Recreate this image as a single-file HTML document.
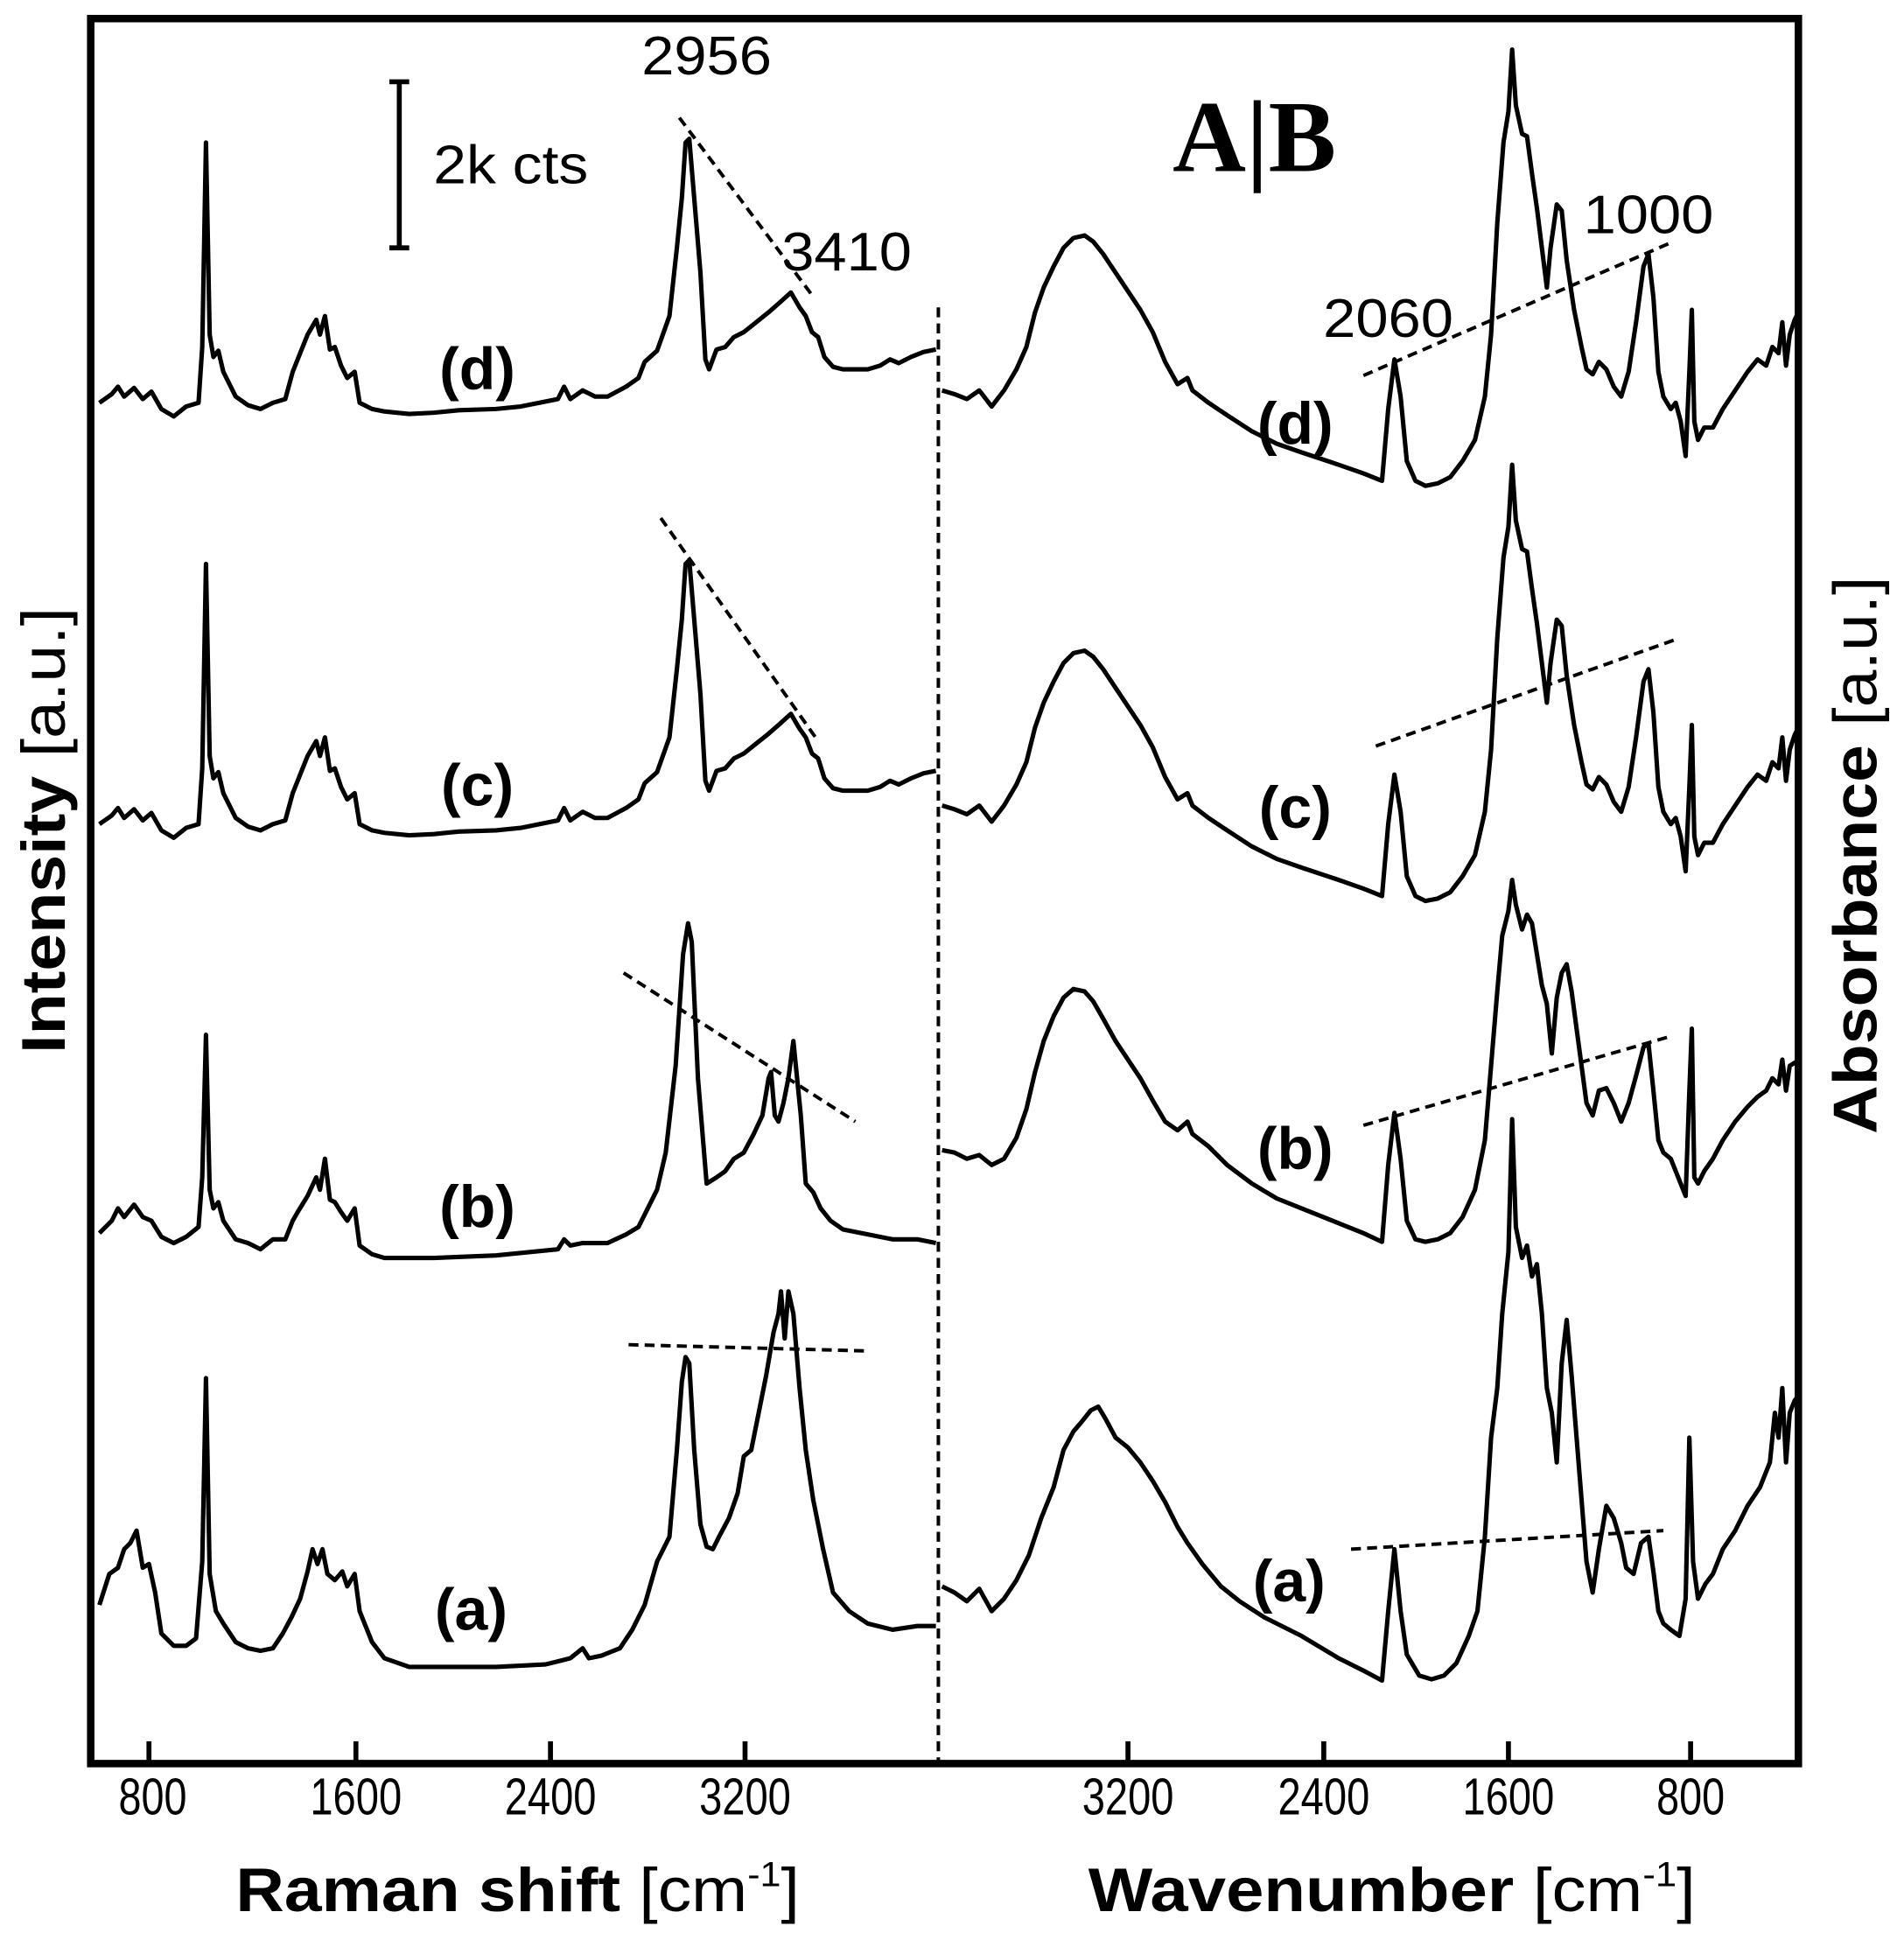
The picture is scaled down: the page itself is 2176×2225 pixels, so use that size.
<!DOCTYPE html>
<html><head><style>html,body{margin:0;padding:0;background:#fff}svg{display:block}</style></head>
<body>
<svg width="2176" height="2225" viewBox="0 0 1536 1571" xmlns="http://www.w3.org/2000/svg" font-family="Liberation Sans, Arial, sans-serif">
<rect width="1536" height="1571" fill="#fff"/>
<g fill="none" stroke="#000" stroke-width="3.6" stroke-linejoin="round">
<polyline id="dl" points="80,325 90,318 95,312 100,320 108,313 115,322 122,316 130,330 140,336 150,328 160,325 163,280 166,115 169,270 172,288 176,283 180,300 190,320 200,327 210,330 220,325 230,322 236,300 240,290 248,270 255,258 258,270 262,255 266,282 270,280 275,295 280,305 286,300 290,325 300,330 310,332 330,334 350,333 370,331 400,330 420,328 450,322 455,312 460,322 470,315 480,320 490,320 505,312 515,305 520,292 530,283 540,255 546,200 550,160 553,115 556,112 560,160 565,220 569,290 572,298 578,282 585,280 592,272 600,268 610,260 620,252 628,245 638,236 645,248 650,255 655,268 660,272 665,288 672,296 680,298 700,298 710,295 718,290 725,293 735,288 745,284 755,282"/>
<use href="#dl" transform="translate(0,340)"/>
<polyline points="80,995 90,985 95,975 100,982 108,972 115,982 122,985 130,998 140,1003 150,998 160,990 163,950 166,835 169,960 172,975 176,970 180,985 190,1000 200,1003 210,1008 220,1000 230,1000 236,985 240,978 248,965 255,950 258,960 262,935 266,968 270,970 275,978 280,985 286,975 290,1005 300,1012 310,1015 330,1015 350,1015 400,1013 450,1008 455,1000 460,1005 470,1003 490,1003 505,996 515,990 520,980 530,960 537,930 545,860 551,770 555,745 558,760 563,870 570,955 578,950 585,945 592,935 600,930 608,915 615,900 620,870 622,865 625,900 628,905 632,890 636,870 640,840 643,870 646,900 650,955 656,962 662,975 670,985 680,992 700,996 720,1000 740,1000 755,1003"/>
<polyline points="80,1295 88,1270 95,1265 100,1250 105,1245 110,1235 115,1265 120,1262 125,1285 130,1318 140,1328 150,1328 158,1322 163,1260 166,1112 169,1270 174,1300 180,1310 190,1325 200,1330 210,1332 220,1330 228,1318 235,1305 242,1290 248,1268 252,1250 256,1262 260,1250 264,1270 270,1275 276,1268 280,1280 286,1270 290,1300 300,1325 310,1338 330,1345 360,1345 400,1345 440,1343 460,1338 470,1330 475,1338 485,1336 500,1330 510,1315 520,1295 530,1260 540,1240 546,1170 550,1115 553,1095 556,1100 560,1170 565,1230 570,1248 575,1250 580,1240 588,1225 595,1205 600,1175 606,1170 612,1140 618,1110 624,1075 628,1060 630,1042 633,1080 636,1042 640,1060 645,1120 650,1170 656,1210 664,1250 672,1285 685,1300 700,1310 720,1315 740,1312 755,1312"/>
<polyline id="dr" points="760,315 770,318 780,322 790,315 800,328 810,315 820,298 828,280 835,252 842,232 850,215 858,200 866,192 875,190 882,195 890,205 900,220 910,235 920,250 930,268 940,292 950,310 958,305 962,315 975,325 990,335 1010,348 1030,358 1050,365 1080,375 1100,382 1115,388 1120,330 1125,290 1130,320 1135,372 1142,388 1150,392 1160,390 1170,385 1180,372 1190,355 1198,320 1203,270 1208,180 1213,115 1217,90 1220,40 1223,85 1228,108 1232,110 1236,140 1240,168 1244,200 1248,232 1251,200 1256,165 1260,170 1264,210 1270,250 1276,280 1280,298 1285,302 1290,292 1296,298 1302,312 1308,320 1314,300 1320,260 1326,215 1330,205 1334,240 1338,300 1342,320 1348,330 1352,325 1356,340 1360,368 1363,300 1365,250 1367,340 1370,355 1375,345 1382,345 1390,330 1400,315 1410,300 1418,290 1425,295 1430,280 1435,285 1438,260 1441,295 1444,270 1448,258 1452,250"/>
<use href="#dr" transform="translate(0,335)"/>
<polyline points="760,928 770,930 780,935 790,932 800,940 810,935 820,918 828,895 835,865 842,840 850,820 858,805 866,798 875,800 882,808 890,822 900,840 910,855 920,870 930,888 940,905 950,912 958,905 962,915 975,925 990,940 1010,955 1030,967 1050,975 1080,987 1100,995 1115,1002 1120,940 1125,898 1130,935 1135,985 1142,1000 1150,1002 1160,1000 1170,995 1180,982 1190,960 1198,920 1203,860 1208,800 1212,755 1217,735 1220,710 1223,730 1228,750 1232,738 1236,745 1240,770 1244,795 1248,810 1252,850 1256,805 1260,785 1264,778 1268,800 1272,830 1276,860 1280,890 1285,900 1290,880 1296,878 1302,890 1308,905 1314,890 1320,868 1326,845 1330,842 1334,880 1338,920 1342,930 1348,935 1352,945 1356,955 1360,965 1363,880 1365,830 1367,950 1370,955 1375,945 1382,935 1390,920 1400,905 1410,893 1418,885 1425,880 1430,870 1435,875 1438,855 1441,880 1444,860 1452,855"/>
<polyline points="760,1280 770,1285 780,1292 790,1282 800,1300 810,1290 820,1275 830,1255 840,1225 850,1200 858,1170 866,1155 872,1148 880,1138 886,1135 892,1145 900,1160 910,1168 920,1180 930,1195 940,1212 950,1232 958,1245 970,1262 985,1280 1000,1292 1020,1305 1050,1320 1080,1338 1100,1348 1115,1356 1120,1300 1125,1250 1130,1300 1135,1335 1145,1352 1155,1355 1165,1352 1175,1342 1185,1320 1192,1300 1198,1240 1203,1160 1208,1120 1212,1060 1217,1010 1220,903 1223,990 1228,1015 1232,1005 1236,1030 1240,1020 1244,1060 1248,1120 1252,1140 1256,1180 1260,1100 1264,1065 1268,1110 1272,1160 1276,1210 1280,1260 1285,1285 1290,1250 1296,1215 1302,1225 1308,1245 1312,1265 1318,1270 1324,1245 1330,1240 1334,1268 1338,1300 1342,1310 1348,1315 1355,1320 1360,1290 1363,1160 1366,1260 1370,1290 1376,1278 1382,1270 1390,1250 1400,1235 1410,1215 1420,1200 1428,1180 1432,1140 1435,1160 1438,1120 1441,1180 1444,1140 1448,1130 1452,1125"/>
</g>
<g stroke="#000" stroke-width="2.8" stroke-dasharray="8,5" fill="none">
<line x1="757" y1="248" x2="757" y2="1423"/>
<line x1="548" y1="95" x2="655" y2="238"/>
<line x1="533" y1="418" x2="660" y2="598"/>
<line x1="503" y1="785" x2="690" y2="905"/>
<line x1="507" y1="1085" x2="697" y2="1090"/>
<line x1="1100" y1="303" x2="1350" y2="195"/>
<line x1="1110" y1="602" x2="1352" y2="516"/>
<line x1="1100" y1="908" x2="1345" y2="837"/>
<line x1="1090" y1="1250" x2="1342" y2="1235"/>
</g>
<rect x="73" y="15" width="1378" height="1408" fill="none" stroke="#000" stroke-width="6"/>
<g stroke="#000" stroke-width="4">
<line x1="120" y1="1423" x2="120" y2="1405"/><line x1="287" y1="1423" x2="287" y2="1405"/>
<line x1="444" y1="1423" x2="444" y2="1405"/><line x1="601" y1="1423" x2="601" y2="1405"/>
<line x1="910" y1="1423" x2="910" y2="1405"/><line x1="1068" y1="1423" x2="1068" y2="1405"/>
<line x1="1217" y1="1423" x2="1217" y2="1405"/><line x1="1364" y1="1423" x2="1364" y2="1405"/>
<line x1="322" y1="66" x2="322" y2="200"/>
<line x1="314" y1="66" x2="330" y2="66"/><line x1="314" y1="200" x2="330" y2="200"/>
</g>
<g font-size="42" text-anchor="middle" lengthAdjust="spacingAndGlyphs">
<text x="123" y="1464" textLength="55" lengthAdjust="spacingAndGlyphs">800</text>
<text x="287" y="1464" textLength="74" lengthAdjust="spacingAndGlyphs">1600</text>
<text x="444" y="1464" textLength="74" lengthAdjust="spacingAndGlyphs">2400</text>
<text x="601" y="1464" textLength="74" lengthAdjust="spacingAndGlyphs">3200</text>
<text x="910" y="1464" textLength="74" lengthAdjust="spacingAndGlyphs">3200</text>
<text x="1068" y="1464" textLength="74" lengthAdjust="spacingAndGlyphs">2400</text>
<text x="1217" y="1464" textLength="74" lengthAdjust="spacingAndGlyphs">1600</text>
<text x="1364" y="1464" textLength="55" lengthAdjust="spacingAndGlyphs">800</text>
</g>
<g font-size="50" font-weight="bold">
<text x="190" y="1542" textLength="455" lengthAdjust="spacingAndGlyphs">Raman shift <tspan font-weight="normal">[cm<tspan font-size="28" dy="-20">-1</tspan><tspan dy="20">]</tspan></tspan></text>
<text x="878" y="1542" textLength="490" lengthAdjust="spacingAndGlyphs">Wavenumber <tspan font-weight="normal">[cm<tspan font-size="28" dy="-20">-1</tspan><tspan dy="20">]</tspan></tspan></text>
<text transform="translate(52,850) rotate(-90)" textLength="360" lengthAdjust="spacingAndGlyphs">Intensity <tspan font-weight="normal">[a.u.]</tspan></text>
<text transform="translate(1514,915) rotate(-90)" textLength="450" lengthAdjust="spacingAndGlyphs">Absorbance <tspan font-weight="normal">[a.u.]</tspan></text>
</g>
<g font-size="48" font-weight="bold" text-anchor="middle">
<text x="385" y="314">(d)</text><text x="385" y="650">(c)</text><text x="385" y="990">(b)</text><text x="380" y="1315">(a)</text>
<text x="1045" y="358">(d)</text><text x="1045" y="668">(c)</text><text x="1045" y="943">(b)</text><text x="1040" y="1292">(a)</text>
</g>
<g font-size="44" text-anchor="middle">
<text x="570" y="60" textLength="105" lengthAdjust="spacingAndGlyphs">2956</text>
<text x="683" y="218" textLength="105" lengthAdjust="spacingAndGlyphs">3410</text>
<text x="1120" y="272" textLength="105" lengthAdjust="spacingAndGlyphs">2060</text>
<text x="1330" y="188" textLength="105" lengthAdjust="spacingAndGlyphs">1000</text>
<text x="412" y="148" textLength="125" lengthAdjust="spacingAndGlyphs">2k cts</text>
</g>
<text x="1012" y="138" font-family="Liberation Serif, serif" font-weight="bold" font-size="82" text-anchor="middle">A|B</text>
</svg>
</body></html>
